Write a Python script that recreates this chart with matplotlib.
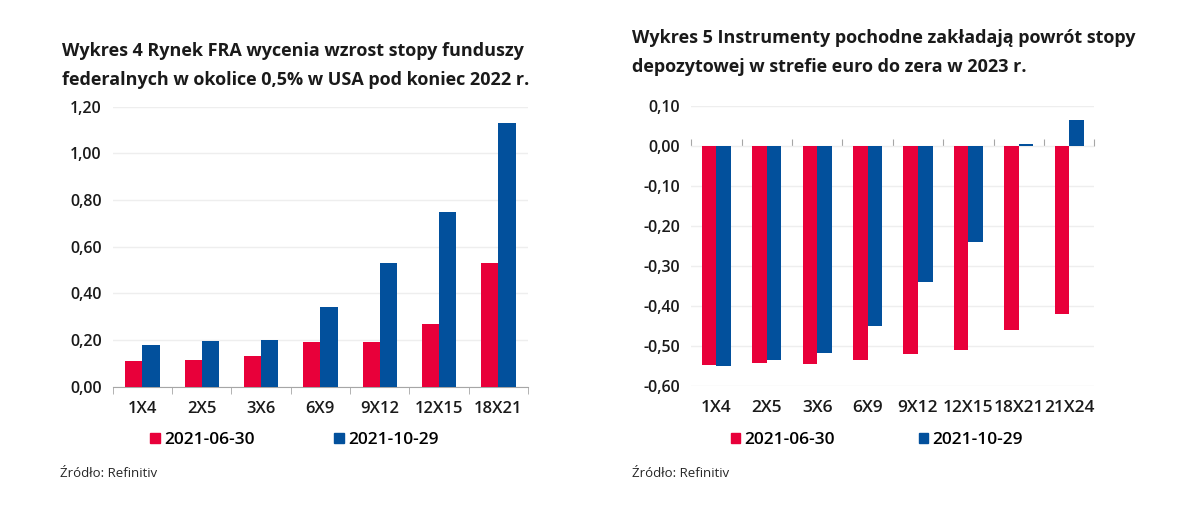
import numpy as np
import matplotlib
matplotlib.use("Agg")
from matplotlib import pyplot as plt
from matplotlib.patches import Patch

plt.rcParams["font.family"] = ["Open Sans", "DejaVu Sans"]

# dane - wykres 4 (USA, FRA)
kat_usa = ["1X4", "2X5", "3X6", "6X9", "9X12", "12X15", "18X21"]
usa_0630 = [0.11, 0.115, 0.13, 0.19, 0.19, 0.27, 0.53]
usa_1029 = [0.18, 0.195, 0.20, 0.34, 0.53, 0.75, 1.13]

# dane - wykres 5 (strefa euro)
kat_eur = ["1X4", "2X5", "3X6", "6X9", "9X12", "12X15", "18X21", "21X24"]
eur_0630 = [-0.548, -0.543, -0.545, -0.535, -0.521, -0.51, -0.46, -0.421]
eur_1029 = [-0.551, -0.535, -0.519, -0.451, -0.34, -0.241, 0.005, 0.064]

serie = ["2021-06-30", "2021-10-29"]
RED = "#E8003A"
BLUE = "#02509C"
GRID = "#eeeeee"
AXIS = "#a6a6a6"

fig = plt.figure(figsize=(12, 5.11), dpi=100)


def fmt(v):
    return ("%.2f" % v).replace(".", ",")


def rysuj(ax, kat, a, b, yticks, xfont, zero_top=False):
    x = np.arange(len(kat))
    w = 0.29
    ax.bar(x - w / 2, a, w, color=RED, zorder=3)
    ax.bar(x + w / 2, b, w, color=BLUE, zorder=3)
    ax.set_xlim(-0.5, len(kat) - 0.5)
    ax.set_ylim(yticks[0], yticks[-1])
    ax.set_yticks(yticks)
    ax.set_yticklabels([fmt(v) for v in yticks])
    ax.grid(axis="y", color=GRID, lw=1, zorder=0)
    for s in ["left", "right", "top"]:
        ax.spines[s].set_visible(False)
    ax.tick_params(axis="y", length=0, pad=8, labelsize=11.5, colors="#1a1a1a")
    ax.set_xticks(x)
    ax.set_xticklabels(kat)
    ax.tick_params(axis="x", length=0, pad=10, labelsize=xfont, colors="#1a1a1a")
    for t in ax.get_xticklabels() + ax.get_yticklabels():
        t.set_fontweight("semibold")
    # os zerowa z kreskami na granicach kategorii
    granice = np.arange(len(kat) + 1) - 0.5
    if zero_top:
        ax.spines["bottom"].set_visible(False)
        frac = (0 - yticks[0]) / (yticks[-1] - yticks[0])
        sec = ax.secondary_xaxis(frac)
        sec.spines["bottom"].set_color(AXIS)
        sec.set_xticks(granice)
        sec.set_xticklabels([])
        sec.tick_params(axis="x", length=5, color=AXIS, direction="out")
        for s in ["top", "left", "right"]:
            sec.spines[s].set_visible(False)
    else:
        ax.spines["bottom"].set_color(AXIS)
        ax.set_xticks(granice, minor=True)
        ax.tick_params(axis="x", which="minor", length=5, color=AXIS)


ax1 = fig.add_axes([0.094, 0.243, 0.346, 0.548])
rysuj(ax1, kat_usa, usa_0630, usa_1029, [0, 0.2, 0.4, 0.6, 0.8, 1.0, 1.2], 12)

ax2 = fig.add_axes([0.576, 0.245, 0.336, 0.548])
rysuj(ax2, kat_eur, eur_0630, eur_1029,
      [-0.6, -0.5, -0.4, -0.3, -0.2, -0.1, 0.0, 0.1], 12.5, zero_top=True)

uchwyty = [Patch(color=RED, label=serie[0]), Patch(color=BLUE, label=serie[1])]
for xl, cs in [(0.112, 4.6), (0.596, 4.8)]:
    fig.legend(handles=uchwyty, loc="center left", bbox_to_anchor=(xl, 0.139),
               ncol=2, frameon=False, handlelength=0.55,
               handleheight=0.55, handletextpad=0.25, columnspacing=cs,
               prop={"weight": "semibold", "size": 12.5})

fig.text(0.052, 0.872, "Wykres 4 Rynek FRA wycenia wzrost stopy funduszy\n"
         "federalnych w okolice 0,5% w USA pod koniec 2022 r.",
         fontsize=13, fontweight="bold", va="center", ha="left",
         linespacing=1.8, color="#1a1a1a")
fig.text(0.527, 0.897, "Wykres 5 Instrumenty pochodne zakładają powrót stopy\n"
         "depozytowej w strefie euro do zera w 2023 r.",
         fontsize=13, fontweight="bold", va="center", ha="left",
         linespacing=1.8, color="#1a1a1a")

fig.text(0.05, 0.074, "Źródło: Refinitiv", fontsize=9.5, color="#262626",
         va="center")
fig.text(0.527, 0.074, "Źródło: Refinitiv", fontsize=9.5, color="#262626",
         va="center")

fig.savefig("out.png", dpi=100)
